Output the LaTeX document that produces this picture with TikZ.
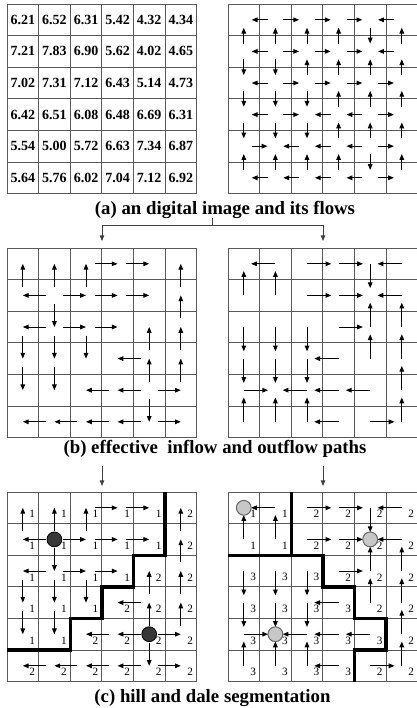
\documentclass[tikz,border=0pt]{standalone}
\usepackage{fontspec}
\setmainfont{Liberation Serif}
\usetikzlibrary{arrows.meta}
\newcommand\Hflow[3]{\draw[flow] ({#2+1-\offA*(#3)},{#1+0.5}) -- ({#2+1+\offB*(#3)},{#1+0.5});}
\newcommand\Vflow[3]{\draw[flow] ({#1+0.5},{#2+1-\offA*(#3)}) -- ({#1+0.5},{#2+1+\offB*(#3)});}
\newcommand\gridlines{\foreach \i in {0,...,6}{\draw[gridline] (\i,0) -- (\i,6); \draw[gridline] (0,\i) -- (6,\i);}}
\newcommand\leftH{\foreach \r/\c/\d in {0/2/1,0/3/1,1/0/-1,1/1/1,1/2/1,1/3/1,2/0/-1,2/1/1,2/2/1,3/3/-1,4/2/-1,4/3/-1,4/4/1,5/0/-1,5/1/-1,5/2/-1,5/3/-1,5/4/1}{\Hflow{\r}{\c}{\d}}}
\newcommand\leftV{\foreach \c/\r/\d in {0/0/-1,0/2/1,0/3/1,1/0/-1,1/1/1,1/2/1,1/3/1,2/0/-1,2/2/1,4/2/-1,4/3/-1,4/4/1,5/0/-1,5/1/-1,5/2/-1,5/3/-1}{\Vflow{\c}{\r}{\d}}}
\newcommand\rightH{\foreach \r/\c/\d in {0/0/-1,0/2/1,0/3/1,0/4/-1,1/2/1,1/3/1,1/4/-1,2/3/1,3/2/-1,4/0/1,4/1/-1,4/2/-1,4/3/-1,5/2/-1,5/4/1}{\Hflow{\r}{\c}{\d}}}
\newcommand\rightV{\foreach \c/\r/\d in {0/0/-1,0/2/1,0/3/1,0/4/-1,1/0/-1,1/2/1,1/3/1,1/4/-1,2/2/1,2/3/1,2/4/-1,4/0/1,4/1/-1,4/2/-1,5/1/-1,5/2/-1,5/3/-1,5/4/-1}{\Vflow{\c}{\r}{\d}}}
\begin{document}
\begin{tikzpicture}[x=0.5pt,y=-0.5pt,
  gridline/.style={draw=black!65, line width=0.5pt},
  flow/.style={line width=0.5pt, draw=black, -{Triangle[length=2.9pt,width=2.3pt]}},
  link/.style={line width=0.4pt, draw=black!75, -{Triangle[length=2.8pt,width=2.2pt]}},
  linkline/.style={line width=0.4pt, draw=black!75},
  val/.style={font=\bfseries\fontsize{7}{8}\selectfont, inner sep=0pt},
  captxt/.style={font=\bfseries\fontsize{9.4}{11}\selectfont, inner sep=0pt, anchor=base},
  lab/.style={font=\fontsize{5.6}{6}\selectfont, inner sep=0pt},
  bound/.style={line width=1.7pt, draw=black, line join=miter},
  hill/.style={circle, draw=black, fill=black!78, line width=0.4pt, minimum size=7.4pt, inner sep=0pt},
  dale/.style={circle, draw=black!60, fill=black!22, line width=0.5pt, minimum size=7.4pt, inner sep=0pt}
]
\useasboundingbox (0,0) rectangle (417,708);
\fill[white] (0,0) rectangle (417,708);

\coordinate (oAL) at (7,4);
\coordinate (oAR) at (228,4);
\coordinate (oBL) at (7,248);
\coordinate (oBR) at (228,248);
\coordinate (oCL) at (7,492);
\coordinate (oCR) at (228,492);

% (a) left: values
\begin{scope}[shift={(oAL)},x=15.8pt,y=-15.8pt]
  \gridlines
  \foreach \row [count=\r from 0] in {{6.21,6.52,6.31,5.42,4.32,4.34},{7.21,7.83,6.90,5.62,4.02,4.65},{7.02,7.31,7.12,6.43,5.14,4.73},{6.42,6.51,6.08,6.48,6.69,6.31},{5.54,5.00,5.72,6.63,7.34,6.87},{5.64,5.76,6.02,7.04,7.12,6.92}}
    \foreach \v [count=\c from 0] in \row
      \node[val] (v-\r-\c) at (\c+0.5,\r+0.5) {\v};
\end{scope}

% (a) right: flows
\begin{scope}[shift={(oAR)},x=15.8pt,y=-15.8pt]
  \gridlines
  \def\offA{0.25}\def\offB{0.25}
  \foreach \r/\c/\d in {0/0/-1,0/1/1,0/2/1,0/3/1,0/4/-1,
                        1/0/-1,1/1/1,1/2/1,1/3/1,1/4/-1,
                        2/0/-1,2/1/1,2/2/1,2/3/1,2/4/1,
                        3/0/-1,3/1/1,3/2/-1,3/3/-1,3/4/1,
                        4/0/1,4/1/-1,4/2/-1,4/3/-1,4/4/1,
                        5/0/-1,5/1/-1,5/2/-1,5/3/-1,5/4/1}{\Hflow{\r}{\c}{\d}}
  \foreach \c/\r/\d in {0/0/-1,0/1/1,0/2/1,0/3/1,0/4/-1,
                        1/0/-1,1/1/1,1/2/1,1/3/1,1/4/-1,
                        2/0/-1,2/1/-1,2/2/1,2/3/1,2/4/-1,
                        3/0/-1,3/1/-1,3/2/-1,3/3/-1,3/4/-1,
                        4/0/1,4/1/-1,4/2/-1,4/3/-1,4/4/1,
                        5/0/-1,5/1/-1,5/2/-1,5/3/-1,5/4/-1}{\Vflow{\c}{\r}{\d}}
\end{scope}

% (b) left
\begin{scope}[shift={(oBL)},x=15.8pt,y=-15.8pt]
  \gridlines
  \def\offA{0.23}\def\offB{0.5}
  \leftH \leftV
\end{scope}

% (b) right
\begin{scope}[shift={(oBR)},x=15.8pt,y=-15.8pt]
  \gridlines
  \def\offA{0.5}\def\offB{0.27}
  \rightH \rightV
\end{scope}

% (c) left
\begin{scope}[shift={(oCL)},x=15.8pt,y=-15.8pt]
  \gridlines
  \draw[bound] (5,0) -- (5,2) -- (4,2) -- (4,3) -- (3,3) -- (3,4) -- (2,4) -- (2,5) -- (0,5);
  \def\offA{0.23}\def\offB{0.5}
  \leftH \leftV
  \foreach \row [count=\r from 0] in {{1,1,1,1,1,2},{1,1,1,1,1,2},{1,1,1,1,2,2},{1,1,1,2,2,2},{1,1,2,2,2,2},{2,2,2,2,2,2}}
    \foreach \v [count=\c from 0] in \row
      \node[lab] (l-\r-\c) at (\c+0.8,\r+0.7) {\v};
  \node[hill] (hA) at (1.5,1.5) {};
  \node[hill] (hB) at (4.5,4.5) {};
\end{scope}

% (c) right
\begin{scope}[shift={(oCR)},x=15.8pt,y=-15.8pt]
  \gridlines
  \draw[bound] (2,0) -- (2,2);
  \draw[bound] (0,2) -- (3,2) -- (3,3) -- (4,3) -- (4,4) -- (5,4) -- (5,5) -- (4,5) -- (4,6);
  \def\offA{0.5}\def\offB{0.27}
  \rightH \rightV
  \foreach \row [count=\r from 0] in {{1,1,2,2,2,2},{1,1,2,2,2,2},{3,3,3,2,2,2},{3,3,3,3,2,2},{3,3,3,3,3,2},{3,3,3,3,2,2}}
    \foreach \v [count=\c from 0] in \row
      \node[lab] (m-\r-\c) at (\c+0.8,\r+0.7) {\v};
  \node[dale] (dA) at (0.5,0.5) {};
  \node[dale] (dB) at (4.5,1.5) {};
  \node[dale] (dC) at (1.5,4.5) {};
\end{scope}

% captions
\node[captxt] (capA) at (225,214) {(a) an digital image and its flows};
\node[captxt] (capB) at (215,453) {(b) effective~ inflow and outflow paths};
\node[captxt] (capC) at (212.5,702) {(c) hill and dale segmentation};

% connectors
\coordinate (tA) at (212.7,218);
\coordinate (jA) at (212.7,225);
\coordinate (eAL) at (102,241);
\coordinate (eAR) at (323,241);
\draw[linkline] (tA) -- (jA);
\draw[link] (jA) -| (eAL);
\draw[link] (jA) -| (eAR);

\coordinate (sBL) at (102,466);
\coordinate (eBL) at (102,486);
\coordinate (sBR) at (323,466);
\coordinate (eBR) at (323,486);
\draw[link] (sBL) -- (eBL);
\draw[link] (sBR) -- (eBR);
\end{tikzpicture}
\end{document}
